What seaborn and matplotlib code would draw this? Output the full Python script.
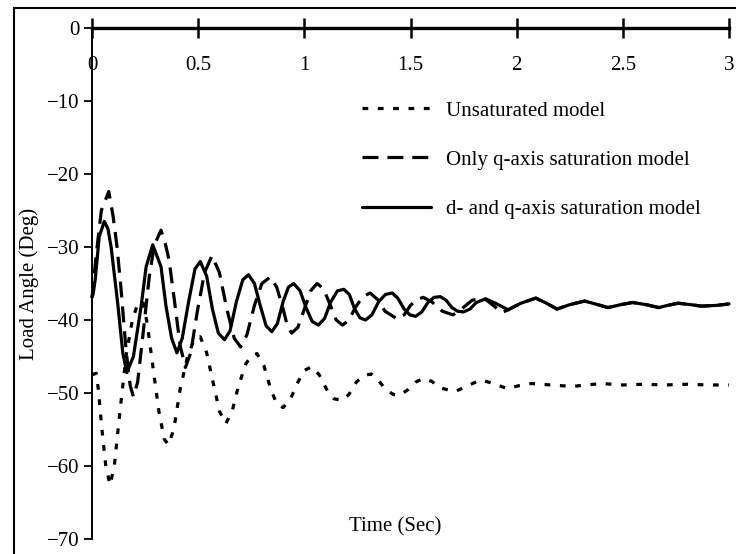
import matplotlib
matplotlib.use("Agg")
import matplotlib.pyplot as plt
from matplotlib.patches import Rectangle
import numpy as np
import pandas as pd
import seaborn as sns

# Unsaturated model
t_unsat = [0.000, 0.020, 0.030, 0.045, 0.065, 0.085, 0.105, 0.130, 0.160, 0.190,
           0.215, 0.240, 0.260, 0.285, 0.315, 0.340, 0.360, 0.385, 0.415, 0.450,
           0.480, 0.510, 0.540, 0.570, 0.600, 0.630, 0.660, 0.690, 0.725, 0.750,
           0.777, 0.810, 0.840, 0.870, 0.900, 0.935, 0.970, 1.000, 1.036, 1.070,
           1.105, 1.140, 1.178, 1.210, 1.245, 1.280, 1.315, 1.350, 1.385, 1.420,
           1.450, 1.490, 1.525, 1.560, 1.600, 1.640, 1.710, 1.770, 1.830, 1.890,
           1.956, 2.010, 2.070, 2.160, 2.260, 2.330, 2.400, 2.500, 2.600, 2.700,
           2.800, 2.900, 3.000]
v_unsat = [-47.5, -47.3, -49.5, -54.5, -60.0, -62.6, -60.0, -53.0, -45.0, -40.0,
           -37.8, -37.5, -40.5, -46.0, -52.5, -56.3, -57.1, -55.0, -49.5, -45.0,
           -42.8, -42.3, -44.5, -48.5, -52.5, -54.2, -52.5, -49.0, -46.0, -44.9,
           -44.6, -46.3, -49.3, -51.5, -52.0, -50.8, -48.5, -46.9, -46.4, -47.5,
           -49.5, -50.8, -51.0, -50.2, -48.5, -47.6, -47.4, -48.3, -49.6, -50.2,
           -50.3, -49.5, -48.5, -48.0, -48.4, -49.3, -49.8, -49.0, -48.2, -48.7,
           -49.4, -49.0, -48.7, -48.9, -49.1, -48.9, -48.7, -48.9, -48.8, -48.9,
           -48.8, -48.9, -48.9]

# Only q-axis saturation model
t_q = [0.000, 0.020, 0.044, 0.079, 0.100, 0.118, 0.136, 0.160, 0.180, 0.195,
       0.215, 0.240, 0.270, 0.294, 0.325, 0.345, 0.363, 0.388, 0.415, 0.440,
       0.465, 0.495, 0.530, 0.565, 0.600, 0.635, 0.670, 0.700, 0.730, 0.765,
       0.800, 0.840, 0.870, 0.900, 0.920, 0.940, 0.970, 1.000, 1.030, 1.060,
       1.090, 1.120, 1.150, 1.180, 1.210, 1.240, 1.275, 1.310, 1.345, 1.380,
       1.440, 1.470, 1.500, 1.530, 1.560, 1.600, 1.650, 1.700, 1.740, 1.790,
       1.845, 1.890, 1.930, 1.960, 2.020, 2.090, 2.140, 2.190, 2.250, 2.320,
       2.370, 2.430, 2.490, 2.546, 2.610, 2.670, 2.710, 2.760, 2.820, 2.870,
       2.940, 3.000]
v_q = [-37.0, -31.0, -25.0, -22.4, -25.9, -30.0, -35.5, -44.0, -49.0, -50.5,
       -48.5, -42.0, -34.0, -29.7, -27.7, -29.5, -31.8, -37.3, -43.5, -46.5,
       -44.5, -39.0, -33.5, -31.2, -33.5, -38.5, -42.5, -43.7, -42.0, -38.0,
       -35.0, -34.1, -35.5, -38.5, -40.8, -41.8, -41.0, -38.5, -36.0, -35.0,
       -35.7, -37.8, -40.0, -40.7, -40.0, -38.3, -36.8, -36.3, -37.2, -38.8,
       -39.9, -39.3, -38.0, -37.2, -36.9, -37.5, -38.8, -39.3, -38.5, -37.3,
       -37.0, -38.0, -39.0, -38.6, -37.7, -37.0, -37.7, -38.5, -37.9, -37.4,
       -37.8, -38.3, -37.9, -37.6, -37.9, -38.3, -38.0, -37.7, -37.9, -38.1,
       -38.0, -37.8]

# d- and q-axis saturation model
t_dq = [0.000, 0.005, 0.015, 0.034, 0.058, 0.075, 0.090, 0.121, 0.145, 0.164,
        0.195, 0.231, 0.255, 0.286, 0.325, 0.349, 0.375, 0.400, 0.425, 0.455,
        0.485, 0.510, 0.540, 0.567, 0.595, 0.624, 0.650, 0.680, 0.710, 0.737,
        0.765, 0.792, 0.820, 0.847, 0.873, 0.900, 0.925, 0.950, 0.980, 1.008,
        1.037, 1.066, 1.095, 1.125, 1.156, 1.186, 1.212, 1.237, 1.262, 1.288,
        1.318, 1.350, 1.382, 1.414, 1.440, 1.470, 1.497, 1.524, 1.553, 1.582,
        1.611, 1.640, 1.668, 1.695, 1.722, 1.750, 1.780, 1.810, 1.854, 1.900,
        1.960, 2.020, 2.090, 2.140, 2.190, 2.250, 2.320, 2.370, 2.430, 2.490,
        2.546, 2.610, 2.670, 2.710, 2.760, 2.820, 2.870, 2.940, 3.000]
v_dq = [-36.8, -36.5, -34.5, -28.6, -26.5, -27.5, -30.0, -37.7, -44.5, -47.2,
        -45.0, -38.2, -32.7, -29.7, -32.7, -38.2, -42.5, -44.5, -42.5, -37.5,
        -33.0, -32.0, -34.0, -38.5, -41.8, -42.7, -41.5, -37.5, -34.5, -33.8,
        -35.0, -38.0, -40.8, -41.6, -40.5, -37.5, -35.5, -35.0, -36.0, -38.3,
        -40.2, -40.7, -39.8, -37.5, -36.0, -35.8, -36.5, -38.5, -39.7, -40.0,
        -39.3, -37.5, -36.5, -36.3, -37.0, -38.5, -39.3, -39.5, -38.9, -37.6,
        -36.9, -36.8, -37.3, -38.3, -38.8, -38.9, -38.5, -37.6, -37.1, -37.7,
        -38.6, -37.7, -37.0, -37.7, -38.5, -37.9, -37.4, -37.8, -38.3, -37.9,
        -37.6, -37.9, -38.3, -38.0, -37.7, -37.9, -38.1, -38.0, -37.8]

series_names = ["Unsaturated model", "Only q-axis saturation model",
                "d- and q-axis saturation model"]
x_ticks = [0, 0.5, 1, 1.5, 2, 2.5, 3]
x_tick_labels = ["0", "0.5", "1", "1.5", "2", "2.5", "3"]
y_ticks = [0, -10, -20, -30, -40, -50, -60, -70]
y_tick_labels = ["0", "\u221210", "\u221220", "\u221230", "\u221240",
                 "\u221250", "\u221260", "\u221270"]

sns.set_theme(style="white")
plt.rcParams["font.family"] = ["Liberation Serif", "DejaVu Serif"]

fig = plt.figure(figsize=(7.36, 5.54), dpi=100)
ax = fig.add_axes([92 / 736, 1 - 539 / 554, 637 / 736, 511 / 554])

frames = [
    pd.DataFrame({"t": t_unsat, "v": v_unsat, "model": series_names[0]}),
    pd.DataFrame({"t": t_q, "v": v_q, "model": series_names[1]}),
    pd.DataFrame({"t": t_dq, "v": v_dq, "model": series_names[2]}),
]
styles = [(0, (1.8, 3.0)), (0, (5.0, 2.8)), "-"]

for df, ls, name in zip(frames, styles, series_names):
    sns.lineplot(data=df, x="t", y="v", ax=ax, color="black", lw=2.3,
                 linestyle=ls, label=name, estimator=None, sort=False,
                 clip_on=False)

ax.set_xlim(0, 3)
ax.set_ylim(-70, 0)
ax.set_xticks(x_ticks)
ax.set_xticklabels(x_tick_labels)
ax.set_yticks(y_ticks)
ax.set_yticklabels(y_tick_labels)

# time axis runs along the zero line at the top
ax.spines["bottom"].set_position(("data", 0))
ax.spines["bottom"].set_linewidth(2.4)
ax.spines["left"].set_linewidth(1.4)
ax.spines["top"].set_visible(False)
ax.spines["right"].set_visible(False)
for s in ("bottom", "left"):
    ax.spines[s].set_color("black")

ax.tick_params(axis="x", direction="inout", length=14, width=1.8,
               pad=13, labelsize=15, colors="black", bottom=True)
ax.tick_params(axis="y", direction="out", length=6, width=1.3,
               pad=3, labelsize=15, colors="black", left=True)

ax.set_xlabel("Time (Sec)", fontsize=15, va="center", color="black")
ax.xaxis.set_label_coords((395 - 92) / 637, (539 - 527) / 511)
ax.set_ylabel("Load Angle (Deg)", fontsize=15, va="center", color="black")
ax.yaxis.set_label_coords((29 - 92) / 637, 0.5)

leg = ax.legend(loc="upper left", bbox_to_anchor=((362 - 92) / 637, (539 - 101) / 511),
                frameon=False, fontsize=15, handlelength=3.3, handletextpad=0.75,
                labelspacing=1.42, borderpad=0, borderaxespad=0)
for txt in leg.get_texts():
    txt.set_color("black")

fig.add_artist(Rectangle((14 / 736, -0.05), 1.0, (1 - 8 / 554) + 0.05,
                         transform=fig.transFigure, fill=False,
                         edgecolor="black", lw=1.5))

fig.savefig("out.png", dpi=100, facecolor="white")
